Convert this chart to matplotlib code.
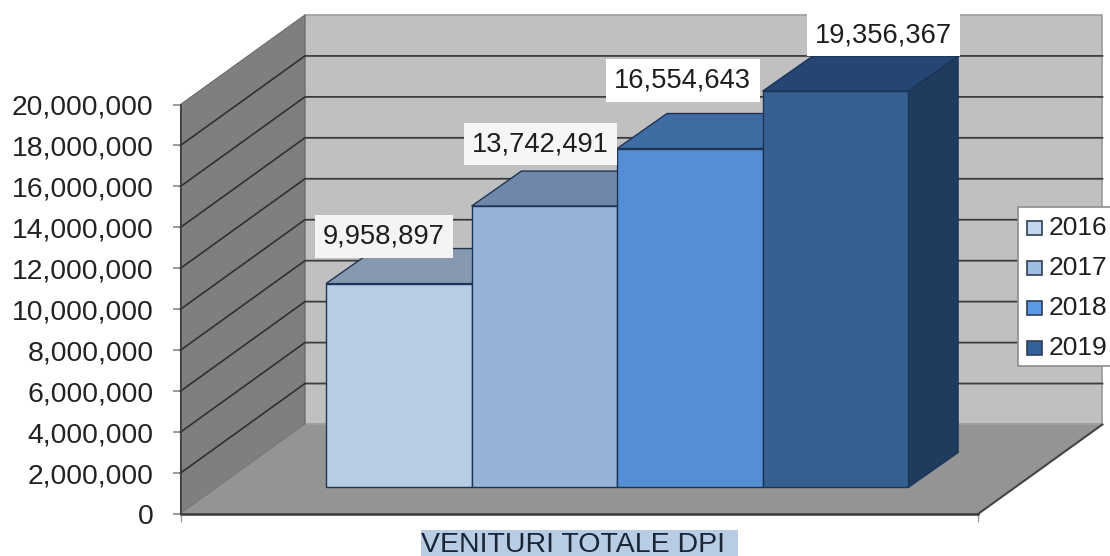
import matplotlib
matplotlib.use("Agg")
import matplotlib.pyplot as plt
from matplotlib.patches import Polygon, Patch, Rectangle
from matplotlib.legend_handler import HandlerPatch
from matplotlib.ticker import FuncFormatter

years = ["2016", "2017", "2018", "2019"]
values = [9958897, 13742491, 16554643, 19356367]
category = "VENITURI TOTALE DPI"
y_ticks = list(range(0, 20000001, 2000000))

front_colors = ["#b8cce4", "#95b3d7", "#558ed5", "#366092"]
top_colors = ["#8799b0", "#6f88aa", "#3f6ca3", "#254673"]
side_colors = ["#8da0b8", "#6f88aa", "#3b659b", "#1f3b5e"]
legend_colors = ["#c3d6ee", "#9dbde3", "#5b9be6", "#34619c"]
label_bg = ["#f4f4f4", "#f6f6f6", "#ffffff", "#ffffff"]
edge_bar = "#1c3555"
label_offsets = [(-15, 47), (-4, 62), (-7, 68), (48, 56)]  # px from top-centre of bar

plt.rcParams["font.family"] = ["Liberation Sans", "DejaVu Sans"]
W, H = 1110, 556
fig = plt.figure(figsize=(W / 100, H / 100), dpi=100)
ax = fig.add_axes([180.5 / W, (H - 514) / H, 797.5 / W, 409.5 / H])
ax.patch.set_visible(False)
ax.set_xlim(-1, 4.48)
ax.set_ylim(0, 20000000)

# depth of the walls and of the bars, in data units
WALL_DX, WALL_DY = 0.855, 4372000
BAR_DX, BAR_DY = 0.343, 1710000
BAR_BASE = 1295000
XL, XR = -1, 4.48

def poly(pts, fc, ec="none", lw=0, z=1):
    ax.add_patch(Polygon(pts, closed=True, facecolor=fc, edgecolor=ec,
                         linewidth=lw, zorder=z, clip_on=False, joinstyle="miter"))

# walls and floor
poly([(XL + WALL_DX, WALL_DY), (XR + WALL_DX, WALL_DY),
      (XR + WALL_DX, 20000000 + WALL_DY), (XL + WALL_DX, 20000000 + WALL_DY)],
     "#c0c0c0", "#9c9c9c", 1.2, z=1)
poly([(XL, 0), (XL + WALL_DX, WALL_DY), (XL + WALL_DX, 20000000 + WALL_DY), (XL, 20000000)],
     "#7f7f7f", "#6a6a6a", 0.8, z=2)
poly([(XL, 0), (XR, 0), (XR + WALL_DX, WALL_DY), (XL + WALL_DX, WALL_DY)], "#949494", z=2)

# gridlines along the side wall and the back wall
for v in y_ticks[1:-1]:
    ax.plot([XL, XL + WALL_DX, XR + WALL_DX], [v, v + WALL_DY, v + WALL_DY],
            color="#3c3c3c", lw=1.3, zorder=1.5, clip_on=False, solid_joinstyle="miter")
    ax.plot([XL, XL + WALL_DX], [v, v + WALL_DY],
            color="#303030", lw=1.2, zorder=3, clip_on=False)
ax.plot([XR, XR + WALL_DX], [0, WALL_DY], color="#444444", lw=1.5, zorder=3, clip_on=False)
ax.plot([XL, XR], [0, 0], color="#3a3a3a", lw=1.8, zorder=3, clip_on=False)

# bars: front face through bar(), top and side faces from the same values
bars = []
for i, (val, fc, tc, sc) in enumerate(zip(values, front_colors, top_colors, side_colors)):
    z = 4 + i
    x0, x1 = i, i + 1
    y0, y1 = BAR_BASE, BAR_BASE + val
    poly([(x1, y0), (x1 + BAR_DX, y0 + BAR_DY), (x1 + BAR_DX, y1 + BAR_DY), (x1, y1)],
         sc, edge_bar, 1.0, z=z)
    poly([(x0, y1), (x1, y1), (x1 + BAR_DX, y1 + BAR_DY), (x0 + BAR_DX, y1 + BAR_DY)],
         tc, edge_bar, 1.0, z=z)
    b = ax.bar(i + 0.5, val, width=1, bottom=BAR_BASE, color=fc, edgecolor=edge_bar,
               linewidth=1.0, zorder=z + 0.5, clip_on=False)
    bars.append(b)
    ox, oy = label_offsets[i]
    ax.annotate(f"{val:,}", xy=(i + 0.5, y1), xytext=(ox * 0.72, oy * 0.72),
                textcoords="offset points", ha="center", va="center",
                fontsize=19.7, color="#1e1e1e", zorder=20, annotation_clip=False,
                bbox=dict(boxstyle="square,pad=0.3", fc=label_bg[i], ec="none"))

# axes
for s in ("top", "right"):
    ax.spines[s].set_visible(False)
ax.spines["left"].set_color("#3c3c3c")
ax.spines["left"].set_linewidth(1.2)
ax.spines["left"].set_zorder(3)
ax.spines["bottom"].set_visible(False)
ax.set_yticks(y_ticks)
ax.yaxis.set_major_formatter(FuncFormatter(lambda v, _: f"{int(v):,}"))
ax.tick_params(axis="y", length=5.8, width=1.2, color="#8a8a8a", pad=13.5,
               labelsize=20.4, labelcolor="#222222")
ax.set_xticks([XL, XR])
ax.set_xticklabels(["", ""])
ax.tick_params(axis="x", length=6, width=1.0, color="#9a9a9a")

# category label with its highlight
fig.add_artist(Rectangle((421 / W, 0), 317 / W, 26 / H, transform=fig.transFigure,
                         facecolor="#b8cce4", edgecolor="none"))
fig.text(421 / W, (H - 552) / H, category, ha="left", va="baseline", fontsize=20.5,
         color="#1a2636")

# legend: its frame runs off the right edge of the picture
frame = Rectangle((1017.5 / W, (H - 366) / H), 100 / W, 159 / H, transform=fig.transFigure,
                  facecolor="white", edgecolor="#8c8c8c", linewidth=1.2, zorder=29)
fig.add_artist(frame)

def square(legend, orig_handle, xdescent, ydescent, width, height, fontsize):
    return Rectangle((xdescent + 2.2, ydescent + 1.5), 10.8, 10)

handles = [Patch(facecolor=c, edgecolor="#2e3f55", linewidth=1.2) for c in legend_colors]
leg = fig.legend(handles, years, loc="upper left",
                 bbox_to_anchor=(1017.5 / W, (H - 210) / H), borderaxespad=0,
                 fontsize=19, frameon=False, labelspacing=0.608, handlelength=0.72,
                 handleheight=0.53, handletextpad=0.22, borderpad=0.24, labelcolor="#1e1e1e",
                 handler_map={Patch: HandlerPatch(patch_func=square)})
leg.set_zorder(30)

fig.savefig("out.png", dpi=100)
